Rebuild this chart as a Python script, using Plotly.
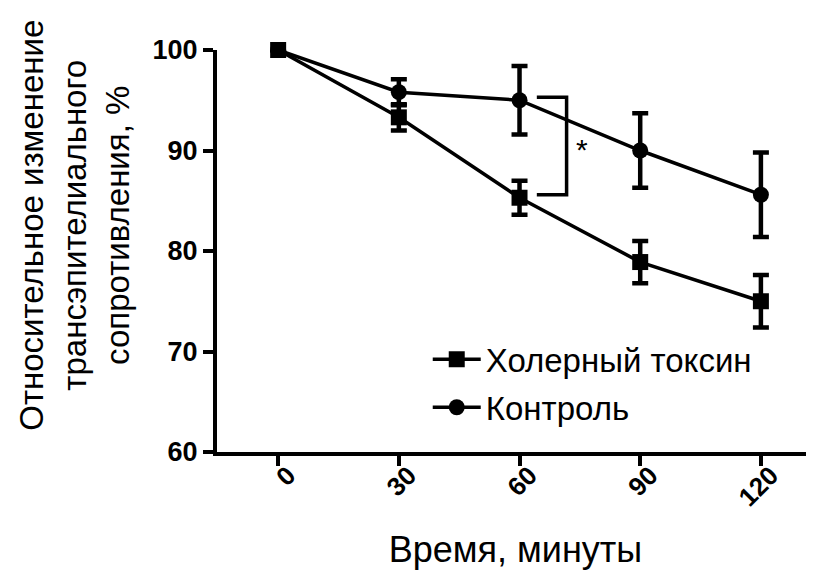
import plotly.graph_objects as go

time_min = [0, 30, 60, 90, 120]
toxin_mean = [100, 93.3, 85.3, 78.9, 75.0]
toxin_err = [0, 1.3, 1.7, 2.1, 2.6]
control_mean = [100, 95.8, 95.0, 90.0, 85.6]
control_err = [0, 1.3, 3.4, 3.7, 4.2]
x_ticks = [0, 30, 60, 90, 120]
y_ticks = [60, 70, 80, 90, 100]

# significance bracket (x from/to, y top/bottom) and star position
bracket_x = [64.3, 71.7]
bracket_y = [95.3, 85.6]
star_xy = [75.5, 90.1]

FONT = "Liberation Sans, Arial, sans-serif"

fig = go.Figure()
fig.add_trace(go.Scatter(
    x=time_min, y=control_mean, name="Контроль",
    mode="lines+markers",
    line=dict(color="black", width=3.5),
    marker=dict(symbol="circle", size=16, color="black"),
    error_y=dict(type="data", array=control_err, color="black", thickness=4.5, width=8),
    cliponaxis=False, legendgroup="b", legendrank=2,
))
fig.add_trace(go.Scatter(
    x=time_min, y=toxin_mean, name="Холерный токсин",
    mode="lines+markers",
    line=dict(color="black", width=3.5),
    marker=dict(symbol="square", size=16, color="black"),
    error_y=dict(type="data", array=toxin_err, color="black", thickness=4.5, width=8),
    cliponaxis=False, legendgroup="a", legendrank=1,
))

fig.add_shape(type="path",
              path=(f"M {bracket_x[0]},{bracket_y[0]} L {bracket_x[1]},{bracket_y[0]} "
                    f"L {bracket_x[1]},{bracket_y[1]} L {bracket_x[0]},{bracket_y[1]}"),
              line=dict(color="black", width=3.5), xref="x", yref="y")
fig.add_annotation(x=star_xy[0], y=star_xy[1], text="*", showarrow=False,
                   font=dict(size=30, color="black", family=FONT))

# y-axis title (rotated annotation, sitting slightly above centre as in the source)
fig.add_annotation(xref="paper", yref="paper", x=-0.238, y=0.565,
                   xanchor="center", yanchor="middle", textangle=-90, align="center",
                   text="Относительное изменение<br>трансэпителиального<br>сопротивления, %",
                   showarrow=False, font=dict(size=33, family=FONT, color="black"))

fig.update_layout(
    width=814, height=588,
    margin=dict(l=209, r=8, t=42, b=144),
    plot_bgcolor="white", paper_bgcolor="white",
    font=dict(family=FONT, color="black"),
    showlegend=True,
    legend=dict(x=0.353, y=0.30, xanchor="left", yanchor="top",
                font=dict(size=33, family=FONT, color="black"),
                traceorder="grouped", tracegroupgap=2, itemwidth=48,
                bgcolor="rgba(0,0,0,0)"),
    xaxis=dict(range=[-15.2, 133.2], tickvals=x_ticks, ticktext=[str(v) for v in x_ticks],
               tickangle=-45, showline=True, linecolor="black", linewidth=4,
               ticks="outside", ticklen=10, tickwidth=4, tickcolor="black",
               showgrid=False, zeroline=False, ticklabelstandoff=-16, ticklabelshift=10,
               tickfont=dict(size=26, family=FONT, color="black", weight="bold"),
               title=dict(text="Время, минуты", font=dict(size=36, family=FONT), standoff=26)),
    yaxis=dict(range=[60, 100], tickvals=y_ticks,
               showline=True, linecolor="black", linewidth=4,
               ticks="outside", ticklen=10, tickwidth=4, tickcolor="black",
               showgrid=False, zeroline=False,
               tickfont=dict(size=27, family=FONT, color="black", weight="bold")),
)

fig.write_html("out.html")
